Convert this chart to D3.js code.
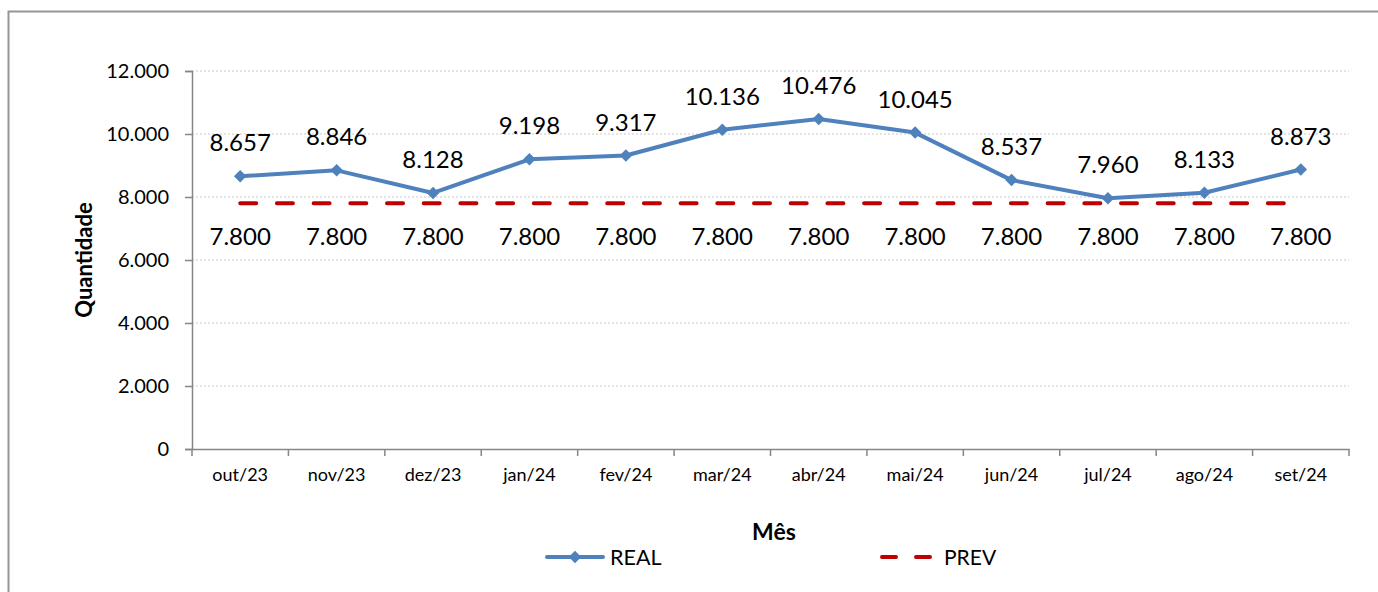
<!DOCTYPE html>
<html>
<head>
<meta charset="utf-8">
<script src="https://cdn.jsdelivr.net/npm/d3@7"></script>
<style>
  body { margin: 0; background: #fff; }
  svg { display: block; }
</style>
</head>
<body>
<svg id="chart" width="1378" height="592"></svg>
<script>
const months = ["out/23", "nov/23", "dez/23", "jan/24", "fev/24", "mar/24", "abr/24", "mai/24", "jun/24", "jul/24", "ago/24", "set/24"];
const realValues = [8657, 8846, 8128, 9198, 9317, 10136, 10476, 10045, 8537, 7960, 8133, 8873];
const prevValues = [7800, 7800, 7800, 7800, 7800, 7800, 7800, 7800, 7800, 7800, 7800, 7800];
const yTicks = [0, 2000, 4000, 6000, 8000, 10000, 12000];

const realColor = "#4f81bd";
const prevColor = "#c00000";
const axisColor = "#868686";
const fontFamily = "Lato, 'Open Sans', sans-serif";

const svg = d3.select("#chart");
const plotLeft = 192, plotRight = 1349, plotTop = 71, plotBottom = 449;

// outer chart frame (only top and left edges fall inside the window)
svg.append("rect")
    .attr("x", 8.5).attr("y", 11.5)
    .attr("width", 1400).attr("height", 600)
    .attr("fill", "none")
    .attr("stroke", "#959595")
    .attr("stroke-width", 2);

const x = d3.scaleBand().domain(months).range([plotLeft, plotRight]);
const y = d3.scaleLinear().domain([0, 12000]).range([plotBottom, plotTop]);
const fmt = v => d3.format(",")(v).replace(/,/g, ".");

// dotted gridlines
svg.append("g")
    .selectAll("line")
    .data(yTicks.filter(d => d > 0))
    .enter()
    .append("line")
    .attr("x1", plotLeft).attr("x2", plotRight)
    .attr("y1", d => y(d)).attr("y2", d => y(d))
    .attr("stroke", "#c8c8c8")
    .attr("stroke-width", 1)
    .attr("stroke-dasharray", "2,2");

// y axis
const yAxis = svg.append("g")
    .attr("transform", `translate(${plotLeft},0)`)
    .call(d3.axisLeft(y).tickValues(yTicks).tickSize(7).tickPadding(16).tickFormat(fmt));
yAxis.select(".domain").attr("stroke", axisColor).attr("stroke-width", 1.5);
yAxis.selectAll(".tick line").attr("stroke", axisColor).attr("stroke-width", 1.5);
yAxis.selectAll("text").attr("font-family", fontFamily).attr("font-size", 20).attr("fill", "#000");

// x axis with ticks on band boundaries
const xAxis = svg.append("g")
    .attr("transform", `translate(0,${plotBottom})`)
    .call(d3.axisBottom(x).tickSize(0).tickPadding(19));
xAxis.select(".domain").attr("stroke", axisColor).attr("stroke-width", 1.5);
xAxis.selectAll("text").attr("font-family", fontFamily).attr("font-size", 18).attr("fill", "#000");
xAxis.selectAll("line.bound")
    .data(months.map(m => x(m)).concat([plotRight]))
    .enter()
    .append("line")
    .attr("class", "bound")
    .attr("x1", d => d).attr("x2", d => d)
    .attr("y1", 0).attr("y2", 7)
    .attr("stroke", axisColor)
    .attr("stroke-width", 1.5);

const cx = m => x(m) + x.bandwidth() / 2;

// PREV dashed line
svg.append("path")
    .datum(prevValues)
    .attr("fill", "none")
    .attr("stroke", prevColor)
    .attr("stroke-width", 4)
    .attr("stroke-linecap", "round")
    .attr("stroke-dasharray", "16,20.7")
    .attr("d", d3.line().x((d, i) => cx(months[i])).y(d => y(d)));

// REAL line
svg.append("path")
    .datum(realValues)
    .attr("fill", "none")
    .attr("stroke", realColor)
    .attr("stroke-width", 4)
    .attr("stroke-linejoin", "round")
    .attr("d", d3.line().x((d, i) => cx(months[i])).y(d => y(d)));

const diamond = d3.symbol().type(d3.symbolDiamond2).size(100);
svg.append("g")
    .selectAll("path")
    .data(realValues)
    .enter()
    .append("path")
    .attr("d", diamond)
    .attr("transform", (d, i) => `translate(${cx(months[i])},${y(d)})`)
    .attr("fill", realColor);

// data labels
svg.append("g")
    .selectAll("text")
    .data(realValues)
    .enter()
    .append("text")
    .attr("x", (d, i) => cx(months[i]))
    .attr("y", d => y(d) - 25)
    .attr("text-anchor", "middle")
    .attr("font-family", fontFamily)
    .attr("font-size", 24)
    .text(fmt);

svg.append("g")
    .selectAll("text")
    .data(prevValues)
    .enter()
    .append("text")
    .attr("x", (d, i) => cx(months[i]))
    .attr("y", d => y(d) + 42)
    .attr("text-anchor", "middle")
    .attr("font-family", fontFamily)
    .attr("font-size", 24)
    .text(fmt);

// axis titles
svg.append("text")
    .attr("transform", `translate(92,${(plotTop + plotBottom) / 2}) rotate(-90)`)
    .attr("text-anchor", "middle")
    .attr("font-family", fontFamily)
    .attr("font-weight", "bold")
    .attr("font-size", 22)
    .text("Quantidade");

svg.append("text")
    .attr("x", 774).attr("y", 540)
    .attr("text-anchor", "middle")
    .attr("font-family", fontFamily)
    .attr("font-weight", "bold")
    .attr("font-size", 23)
    .text("Mês");

// legend
const legend = svg.append("g");
legend.append("line")
    .attr("x1", 547).attr("x2", 603).attr("y1", 557).attr("y2", 557)
    .attr("stroke", realColor).attr("stroke-width", 4).attr("stroke-linecap", "round");
legend.append("path")
    .attr("d", diamond)
    .attr("transform", "translate(575,557)")
    .attr("fill", realColor);
legend.append("text")
    .attr("x", 610).attr("y", 565)
    .attr("font-family", fontFamily).attr("font-size", 21.5)
    .text("REAL");
legend.append("line")
    .attr("x1", 882).attr("x2", 931).attr("y1", 557).attr("y2", 557)
    .attr("stroke", prevColor).attr("stroke-width", 4).attr("stroke-linecap", "round")
    .attr("stroke-dasharray", "14,20");
legend.append("text")
    .attr("x", 944).attr("y", 565)
    .attr("font-family", fontFamily).attr("font-size", 21)
    .text("PREV");
</script>
</body>
</html>
